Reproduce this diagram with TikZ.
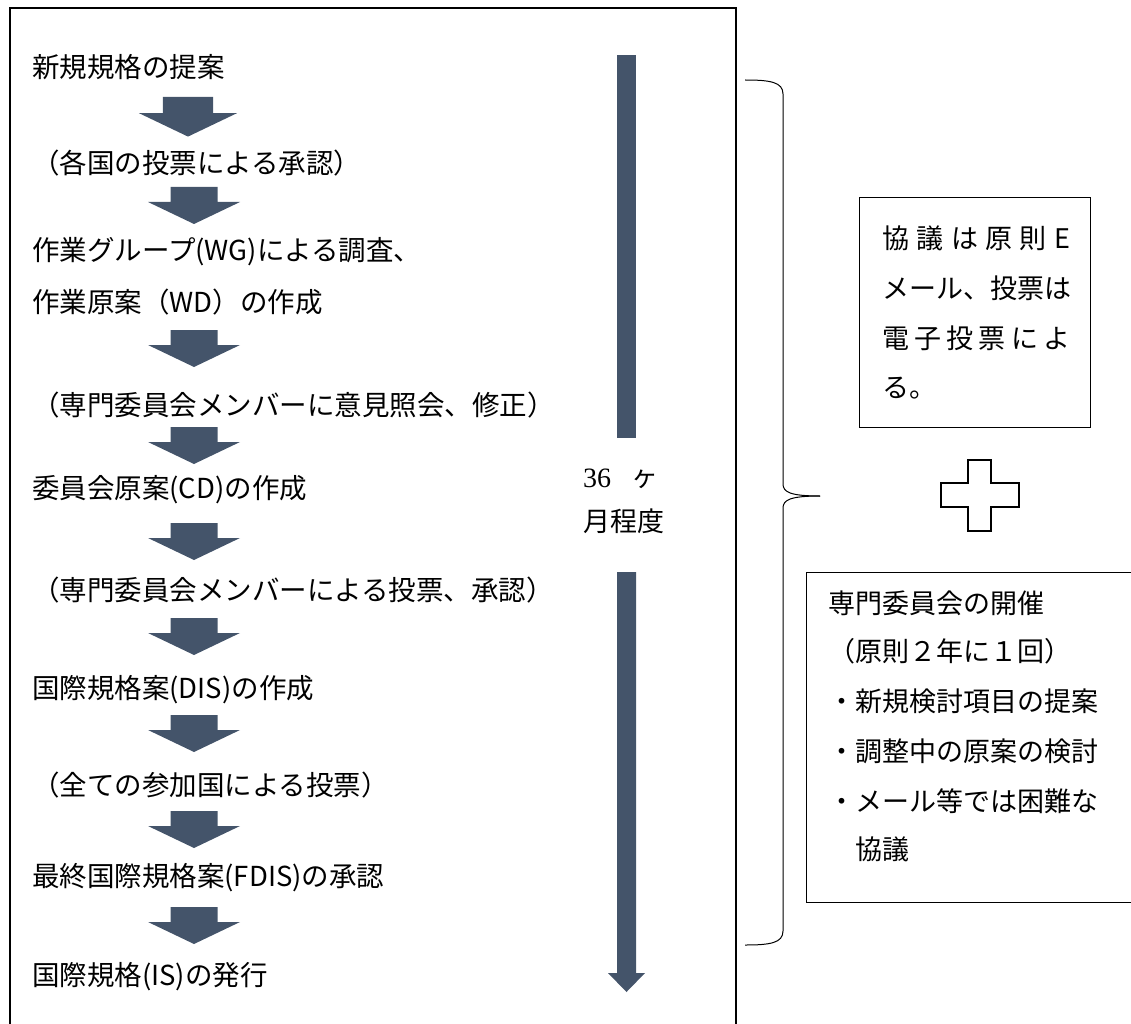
\documentclass[tikz,border=0pt]{standalone}
\usepackage{fontspec}
\newfontfamily\jp{Noto Sans CJK JP}
\newfontfamily\numserif{Liberation Serif}
\definecolor{arrowblue}{HTML}{44546A}
\tikzset{
  jtext/.style={font=\jp\fontsize{27.5}{30}\selectfont, inner sep=0pt, anchor=west},
  rtext/.style={font=\jp\fontsize{27}{30}\selectfont, inner sep=0pt, anchor=west},
  frameline/.style={draw=black, line width=1.6pt},
  thinline/.style={draw=black, line width=0.9pt},
  braceline/.style={draw=black, line width=1pt},
  pics/darr/.style={code={
    \fill[arrowblue] (-23.5,0) -- (23.5,0) -- (23.5,15) -- (46,15) -- (0,37) -- (-46,15) -- (-23.5,15) -- cycle;}}
}
\begin{document}
\begin{tikzpicture}[x=1pt,y=-1pt]
\useasboundingbox (0,0) rectangle (1131,1024);
% main frame (bottom edge lies outside the picture)
\draw[frameline] (10,1030) -- (10,8) -- (736,8) -- (736,1030);
% steps
\node[jtext] (t1) at (32,67) {新規規格の提案};
\node[jtext] (t2) at (32,163) {（各国の投票による承認）};
\node[jtext] (t3) at (32,252) {作業グループ(WG)による調査、};
\node[jtext] (t4) at (32,302) {作業原案（WD）の作成};
\node[jtext] (t5) at (32,405) {（専門委員会メンバーに意見照会、修正）};
\node[jtext] (t6) at (32,490) {委員会原案(CD)の作成};
\node[jtext] (t7) at (32,590) {（専門委員会メンバーによる投票、承認）};
\node[jtext] (t8) at (32,690) {国際規格案(DIS)の作成};
\node[jtext] (t9) at (32,785) {（全ての参加国による投票）};
\node[jtext] (t10) at (32,878) {最終国際規格案(FDIS)の承認};
\node[jtext] (t11) at (32,977) {国際規格(IS)の発行};
% block arrows
\pic[scale=1.07] at (188,97) {darr};
\pic at (194,187) {darr};
\pic at (194,330) {darr};
\pic at (194,427) {darr};
\pic at (194,523) {darr};
\pic at (194,618) {darr};
\pic at (194,715) {darr};
\pic at (194,811) {darr};
\pic at (194,907) {darr};
% long duration arrow
\fill[arrowblue] (617,55) rectangle (636,438);
\fill[arrowblue] (617,572) -- (636,572) -- (636,973) -- (645,973) -- (626.5,992) -- (608,973) -- (617,973) -- cycle;
\node[font=\numserif\fontsize{28}{32}\selectfont, inner sep=0pt, anchor=west] (d1) at (583,478) {36};
\node[rtext, anchor=center] (d2) at (645,479) {ヶ};
\node[rtext] (d3) at (583,521) {月程度};
% brace
\draw[braceline] (745,80) .. controls (770,80) and (783,82) .. (783,94) -- (783,484)
  .. controls (783,492) and (790,496) .. (820,496);
\draw[braceline] (820,496) .. controls (790,496) and (783,500) .. (783,508) -- (783,931)
  .. controls (783,943) and (770,945) .. (745,945);
% top right box
\draw[thinline] (859,197) rectangle (1090,427);
\node[rtext] (e1) at (882,238) {\makebox[188pt][s]{協\hfill 議\hfill は\hfill 原\hfill 則\hfill E}};
\node[rtext] (e2) at (882,288) {\makebox[188pt][s]{メ\hfill ー\hfill ル\hfill 、\hfill 投\hfill 票\hfill は}};
\node[rtext] (e3) at (882,338) {\makebox[188pt][s]{電\hfill 子\hfill 投\hfill 票\hfill に\hfill よ}};
\node[rtext] (e4) at (882,388) {る。};
% plus
\draw[line width=2.4pt, line join=miter] (968,460) -- (991,460) -- (991,483) -- (1019,483) -- (1019,507) -- (991,507)
  -- (991,531) -- (968,531) -- (968,507) -- (941,507) -- (941,483) -- (968,483) -- cycle;
% bottom right box (right edge outside the picture)
\draw[thinline] (1135,572) -- (806,572) -- (806,902) -- (1135,902);
\node[rtext] (m1) at (828,603) {専門委員会の開催};
\node[rtext] (m2) at (828,651) {（原則２年に１回）};
\node[rtext] (m3) at (828,701) {・新規検討項目の提案};
\node[rtext] (m4) at (828,751) {・調整中の原案の検討};
\node[rtext] (m5) at (828,801) {・メール等では困難な};
\node[rtext] (m6) at (855,849) {協議};
\end{tikzpicture}
\end{document}
